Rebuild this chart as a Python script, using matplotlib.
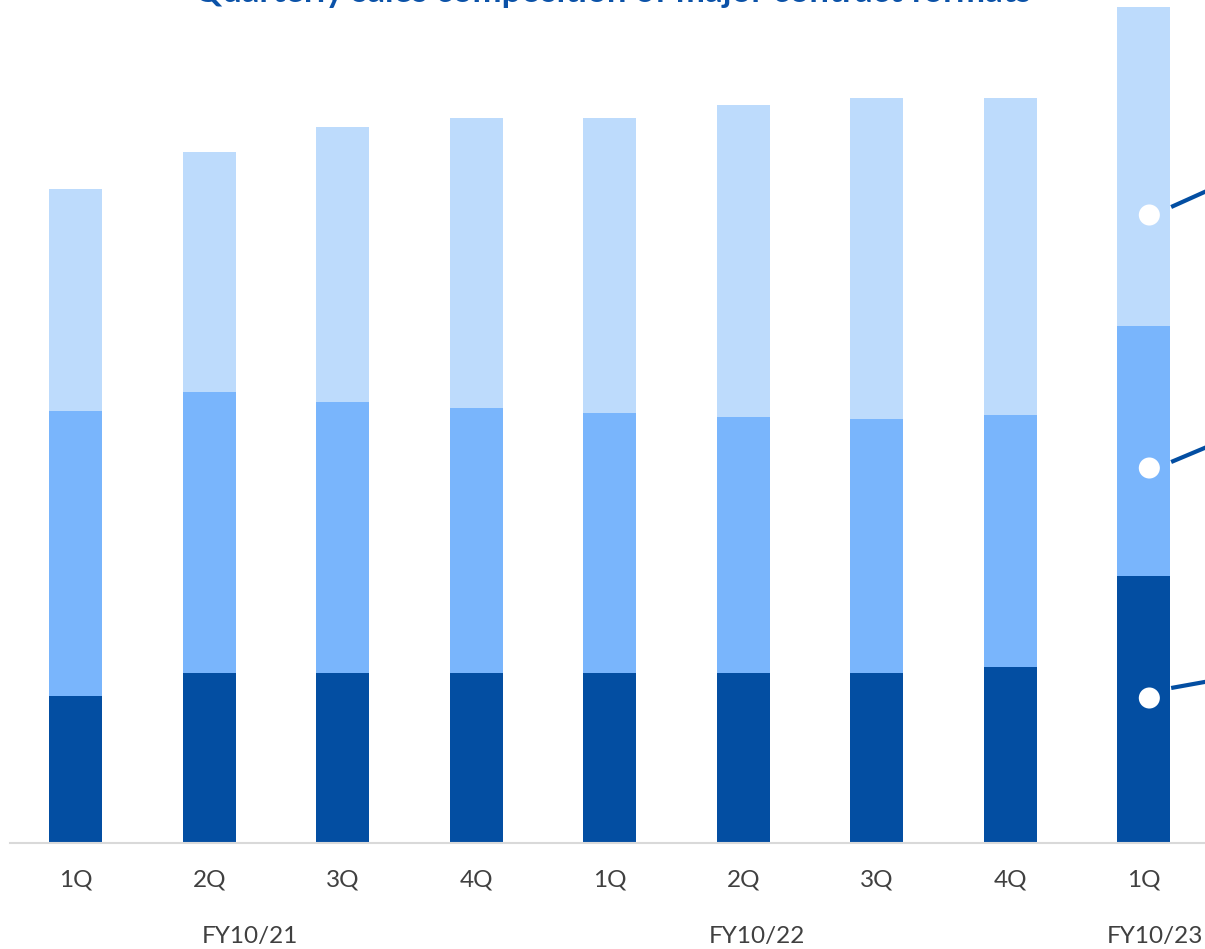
import matplotlib
matplotlib.use("Agg")
from matplotlib import pyplot as plt
import numpy as np

# dados (unidades arbitrarias)
quarters = ["1Q", "2Q", "3Q", "4Q", "1Q", "2Q", "3Q", "4Q", "1Q"]
years = ["FY10/21", "FY10/22", "FY10/23"]
year_pos = [1.3, 5.1, 8.08]
bottom_seg = [147, 170, 170, 170, 170, 170, 170, 176, 267]
middle_seg = [285, 281, 271, 265, 260, 256, 254, 252, 250]
top_seg = [222, 240, 275, 290, 295, 312, 321, 317, 319]
dot_y = [145, 375, 628]          # marcadores brancos na ultima barra
leader_y = [155, 381, 636]       # inicio das linhas de chamada
leader_slope = [0.18, 0.42, 0.45]

c_dark = "#034EA2"
c_mid = "#79B5FC"
c_light = "#BDDBFC"

plt.rcParams['font.family'] = ['Lato', 'DejaVu Sans']

fig = plt.figure(figsize=(12.05, 9.49), dpi=100)
ax = fig.add_axes([10/1205, 106/949, 1195/1205, 843/949])

x = np.arange(len(quarters))
b = np.array(bottom_seg)
m = np.array(middle_seg)
t = np.array(top_seg)
w = 0.397
ax.bar(x, b, w, color=c_dark)
ax.bar(x, m, w, bottom=b, color=c_mid)
ax.bar(x, t, w, bottom=b + m, color=c_light)

# marcadores e linhas de chamada na ultima barra
last = x[-1]
ax.scatter([last + 0.04] * 3, dot_y, s=230, color="white", zorder=5, edgecolor="none")
for y0, sl in zip(leader_y, leader_slope):
    x0 = last + w / 2 + 0.005
    x1 = last + 0.9
    ax.plot([x0, x1], [y0, y0 + sl * (x1 - x0) * 133.5], color=c_dark, lw=3,
            solid_capstyle="butt", clip_on=False, zorder=4)

ax.set_xlim(-0.494, 8.457)
ax.set_ylim(0, 843)
ax.set_xticks(x)
ax.set_xticklabels(quarters, fontsize=17.5, color="#404040")
ax.tick_params(axis="x", length=0, pad=19)
ax.set_yticks([])
for s in ["top", "right", "left"]:
    ax.spines[s].set_visible(False)
ax.spines["bottom"].set_color("#D9D9D9")
ax.spines["bottom"].set_linewidth(1.5)

for yr, p in zip(years, year_pos):
    ax.text(p, -0.1115, yr, transform=ax.get_xaxis_transform(), ha="center", va="center",
            fontsize=17.5, color="#404040")

fig.text(612/1205, 1 - 1.5/949, "Quarterly sales composition of major contract formats",
         ha="center", va="baseline", fontsize=25, fontweight="bold", color="#0B52A8")

plt.savefig("out.png", dpi=100)
